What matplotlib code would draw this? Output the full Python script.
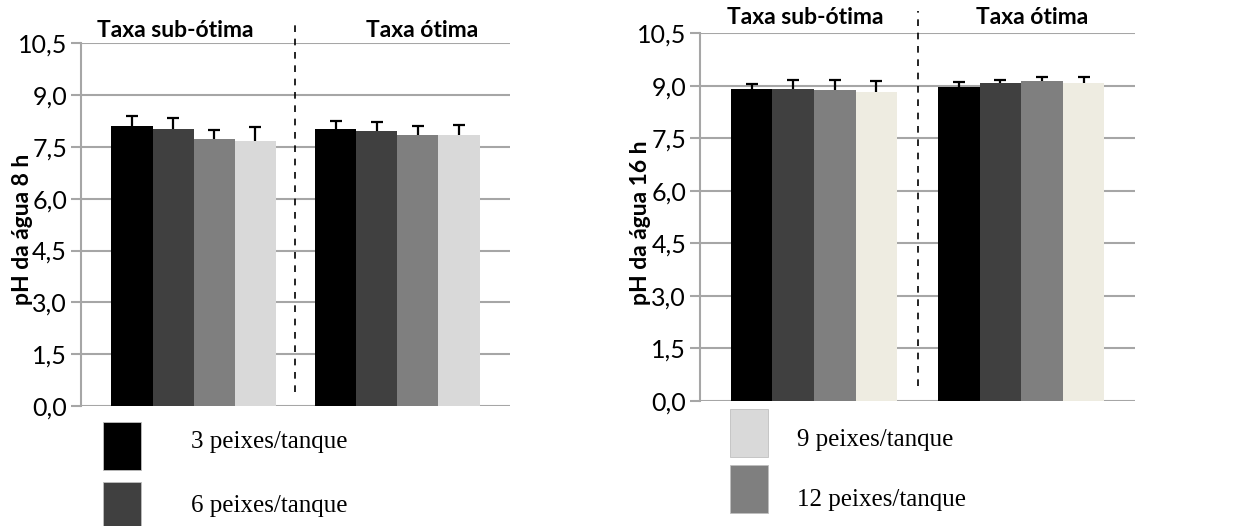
import numpy as np
import matplotlib
matplotlib.use("Agg")
from matplotlib import pyplot as plt
from matplotlib.patches import Rectangle

# data
groups = ["Taxa sub-ótima", "Taxa ótima"]
densities = ["3 peixes/tanque", "6 peixes/tanque", "9 peixes/tanque", "12 peixes/tanque"]

ph_8h = [[8.09, 8.02, 7.72, 7.66],
         [8.03, 7.95, 7.83, 7.83]]
err_8h = [[0.30, 0.30, 0.27, 0.41],
          [0.22, 0.27, 0.27, 0.31]]

ph_16h = [[8.90, 8.90, 8.87, 8.81],
          [8.95, 9.07, 9.14, 9.07]]
err_16h = [[0.14, 0.26, 0.28, 0.31],
           [0.15, 0.09, 0.10, 0.18]]

yticks = [0.0, 1.5, 3.0, 4.5, 6.0, 7.5, 9.0, 10.5]
ytick_labels = ["0,0", "1,5", "3,0", "4,5", "6,0", "7,5", "9,0", "10,5"]

colors_8h = ["#000000", "#404040", "#7f7f7f", "#d9d9d9"]
colors_16h = ["#000000", "#404040", "#7f7f7f", "#eeece1"]
legend_colors = ["#000000", "#404040", "#d9d9d9", "#7f7f7f"]

grid_col = "#a6a6a6"
sans = "Lato"

fig = plt.figure(figsize=(12.53, 5.26), dpi=100)


def draw_panel(rect, values, errs, colors, gap, ylabel, title_pos, ylabel_x):
    ax = fig.add_axes(rect)
    nb = len(values[0])
    lefts = []
    for g, (vals, ee) in enumerate(zip(values, errs)):
        x = np.arange(nb) + g * (nb + gap)
        lefts.append(x)
        vals = np.array(vals)
        tops = vals + np.array(ee)
        ax.bar(x, vals, width=1.0, color=colors, zorder=3)
        # only the upper half of the error bar, as in the original
        ax.vlines(x, vals, tops, color="black", lw=1.6, zorder=4)
        ax.plot(x, tops, ls="none", marker="_", ms=9, mew=1.6, color="black", zorder=4)
    x0 = lefts[0][0] - 0.5 - 0.74
    x1 = lefts[-1][-1] + 0.5 + 0.74
    ax.set_xlim(x0, x1)
    ax.set_ylim(0, 10.5)
    ax.set_yticks(yticks)
    ax.set_yticklabels(ytick_labels, fontsize=18, family=sans)
    ax.set_xticks([])
    ax.yaxis.grid(True, color=grid_col, linewidth=1.5, zorder=0)
    for s in ["top", "right", "bottom"]:
        ax.spines[s].set_visible(False)
    ax.spines["left"].set_color(grid_col)
    ax.spines["left"].set_linewidth(1.5)
    ax.tick_params(axis="y", length=7, width=1.5, color=grid_col, pad=3, labelcolor="black")

    # dashed separator between the groups
    xm = (lefts[0][-1] + lefts[1][0]) / 2
    ax.plot([xm, xm], [0.04, 1.06], ls=(0, (4, 4)), color="black", lw=1.2,
            transform=ax.get_xaxis_transform(), clip_on=False, zorder=5)

    for (tx, ty), name in zip(title_pos, groups):
        ax.text(tx, ty, name, transform=ax.transAxes, ha="center", va="center",
                fontsize=16.5, fontweight="bold", family=sans)

    fig.text(ylabel_x, rect[1] + rect[3] / 2 - 0.01, ylabel, rotation=90, ha="center", va="center",
             fontsize=16.5, fontweight="bold", family=sans)
    return ax


draw_panel([0.0646, 0.228, 0.3424, 0.690], ph_8h, err_8h, colors_8h, 0.95,
           "pH da água 8 h", [(0.219, 1.036), (0.795, 1.036)], 0.018)
draw_panel([0.5587, 0.2376, 0.3472, 0.6996], ph_16h, err_16h, colors_16h, 0.98,
           "pH da água 16 h", [(0.241, 1.041), (0.763, 1.041)], 0.511)

# split legend below the panels
leg_spots = [(103, 422, 191, 442), (103, 482, 191, 506),
             (730, 409, 797, 440), (730, 465, 797, 500)]
W, H = 1253.0, 526.0
for (sx, sy, tx, ty), lab, col in zip(leg_spots, densities, legend_colors):
    fig.patches.append(Rectangle((sx / W, 1 - (sy + 48) / H), 38 / W, 48 / H,
                                 transform=fig.transFigure, facecolor=col,
                                 edgecolor="#bfbfbf", linewidth=0.6))
    fig.text(tx / W, 1 - ty / H, lab, ha="left", va="center", fontsize=18,
             family="Liberation Serif")

fig.savefig("out.png", dpi=100)
